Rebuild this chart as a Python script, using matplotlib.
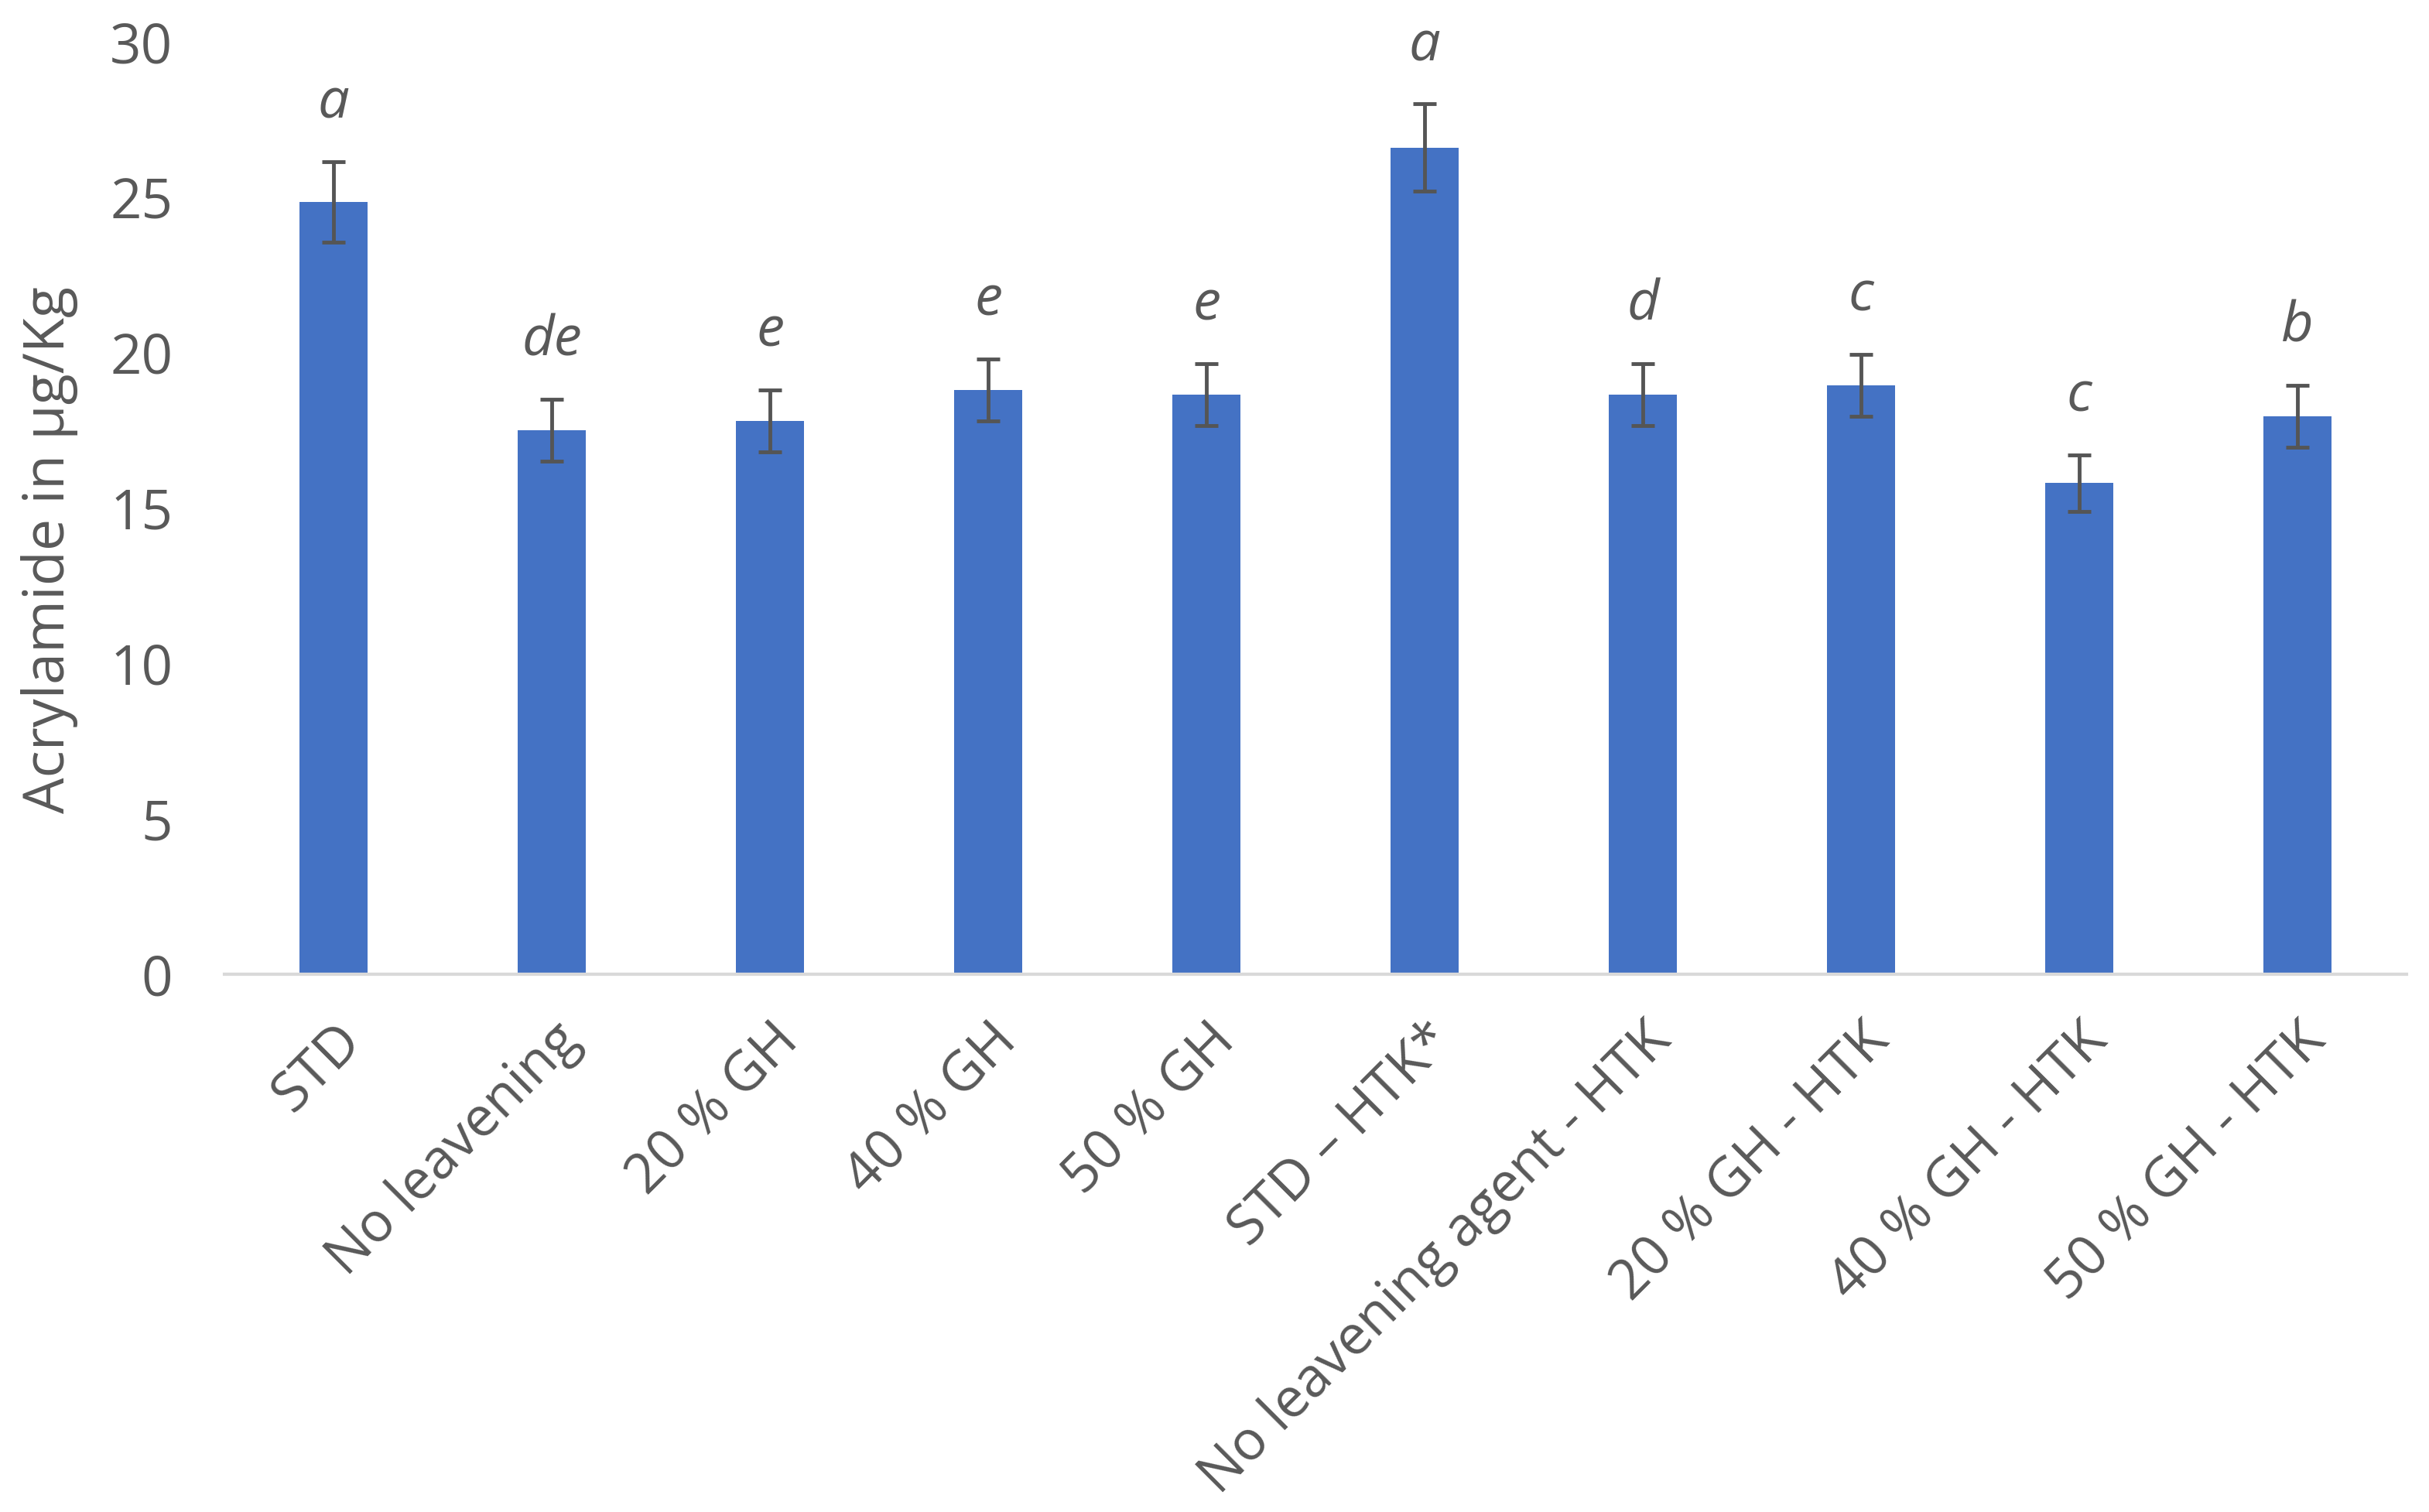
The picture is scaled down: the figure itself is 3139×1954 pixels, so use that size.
import matplotlib.pyplot as plt
import numpy as np

# data
categories = ["STD", "No leavening", "20 % GH", "40 % GH", "50 % GH",
              "STD \u2013 HTK*", "No leavening agent - HTK", "20 % GH - HTK",
              "40 % GH - HTK", "50 % GH - HTK"]
means = [24.85, 17.5, 17.8, 18.8, 18.65, 26.6, 18.65, 18.95, 15.8, 17.95]
errors = [1.3, 1.0, 1.0, 1.0, 1.0, 1.4, 1.0, 1.0, 0.9, 1.0]
letters = ["a", "de", "e", "e", "e", "a", "d", "c", "c", "b"]

plt.rcParams['font.family'] = ['Open Sans', 'DejaVu Sans']
text_col = "#595959"

fig = plt.figure(figsize=(31.39, 19.54), dpi=100)
ax = fig.add_axes([290 / 3139, 695 / 1954, 2820 / 3139, (1259 - 54) / 1954])

x = np.arange(len(categories))
ax.bar(x, means, width=0.31, color="#4472C4", zorder=2)
ax.errorbar(x, means, yerr=errors, fmt="none", ecolor="#555555",
            elinewidth=3.5, capsize=11, capthick=3.5, zorder=3)

# significance letters above error bars
for xi, m, e, lab in zip(x, means, errors, letters):
    ax.text(xi, m + e + 1.4, lab, ha="center", va="baseline", style="italic",
            fontsize=52, color=text_col)

ax.set_xlim(-0.5, len(categories) - 0.5)
ax.set_ylim(0, 30)
ax.set_yticks(np.arange(0, 31, 5))
ax.set_xticks(x)
ax.set_xticklabels(categories, rotation=45, ha="right", va="top",
                   rotation_mode="anchor")

ax.tick_params(axis="y", length=0, pad=48, labelsize=51, labelcolor=text_col)
ax.tick_params(axis="x", length=0, pad=36, labelsize=51, labelcolor=text_col)

for s in ["top", "right", "left"]:
    ax.spines[s].set_visible(False)
ax.spines["bottom"].set_color("#D9D9D9")
ax.spines["bottom"].set_linewidth(3)

ax.set_ylabel("Acrylamide in \u00b5g/Kg", fontsize=53, color=text_col)
ax.yaxis.set_label_coords(-0.067, 0.455)

fig.savefig("out.png", dpi=100, facecolor="white")
